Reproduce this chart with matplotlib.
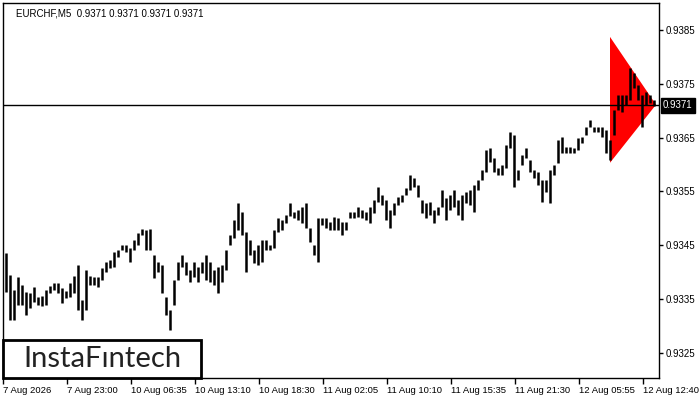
import matplotlib.pyplot as plt
from matplotlib.patches import Polygon, Rectangle

# EURCHF M5 bars (high / low), one entry per plotted bar
highs = [
    0.93435, 0.93394, 0.93366, 0.93391, 0.93376, 0.93363, 0.93361, 0.93372, 0.93354, 0.93356,
    0.93366, 0.93374, 0.93379, 0.93379, 0.93370, 0.93365, 0.93379, 0.93392, 0.93413, 0.93348,
    0.93404, 0.93392, 0.93391, 0.93391, 0.93407, 0.93418, 0.93422, 0.93437, 0.93441, 0.93450,
    0.93450, 0.93444, 0.93459, 0.93472, 0.93480, 0.93478, 0.93480, 0.93431, 0.93418, 0.93413,
    0.93354, 0.93329, 0.93385, 0.93418, 0.93431, 0.93418, 0.93404, 0.93418, 0.93409, 0.93418,
    0.93431, 0.93418, 0.93404, 0.93409, 0.93413, 0.93441, 0.93469, 0.93497, 0.93528, 0.93512,
    0.93474, 0.93459, 0.93441, 0.93450, 0.93459, 0.93459, 0.93450, 0.93478, 0.93500, 0.93497,
    0.93506, 0.93528, 0.93512, 0.93515, 0.93521, 0.93528, 0.93482, 0.93450, 0.93500, 0.93500,
    0.93500, 0.93493, 0.93502, 0.93500, 0.93493, 0.93493, 0.93512, 0.93512, 0.93521, 0.93515,
    0.93512, 0.93521, 0.93534, 0.93558, 0.93543, 0.93534, 0.93515, 0.93528, 0.93539, 0.93543,
    0.93556, 0.93581, 0.93575, 0.93562, 0.93534, 0.93528, 0.93530, 0.93515, 0.93521, 0.93553,
    0.93538, 0.93543, 0.93553, 0.93534, 0.93543, 0.93549, 0.93553, 0.93562, 0.93571, 0.93590,
    0.93627, 0.93631, 0.93612, 0.93594, 0.93599, 0.93636, 0.93660, 0.93655, 0.93590, 0.93618,
    0.93631, 0.93608, 0.93590, 0.93586, 0.93571, 0.93571, 0.93590, 0.93599, 0.93646, 0.93651,
    0.93633, 0.93633, 0.93631, 0.93649, 0.93651, 0.93670, 0.93683, 0.93670, 0.93670, 0.93670,
    0.93664, 0.93646, 0.93701, 0.93729, 0.93729, 0.93729, 0.93780, 0.93770, 0.93748, 0.93729,
    0.93735, 0.93729, 0.93720,
]
lows = [
    0.93363, 0.93311, 0.93311, 0.93339, 0.93339, 0.93320, 0.93333, 0.93344, 0.93339, 0.93337,
    0.93339, 0.93361, 0.93366, 0.93361, 0.93342, 0.93352, 0.93354, 0.93361, 0.93329, 0.93311,
    0.93329, 0.93376, 0.93376, 0.93372, 0.93385, 0.93400, 0.93407, 0.93409, 0.93428, 0.93441,
    0.93437, 0.93418, 0.93441, 0.93450, 0.93469, 0.93441, 0.93441, 0.93389, 0.93400, 0.93361,
    0.93320, 0.93292, 0.93339, 0.93385, 0.93409, 0.93394, 0.93381, 0.93391, 0.93381, 0.93398,
    0.93385, 0.93381, 0.93376, 0.93361, 0.93381, 0.93404, 0.93450, 0.93463, 0.93478, 0.93469,
    0.93400, 0.93431, 0.93416, 0.93413, 0.93418, 0.93441, 0.93441, 0.93444, 0.93474, 0.93478,
    0.93491, 0.93504, 0.93500, 0.93497, 0.93491, 0.93482, 0.93456, 0.93431, 0.93418, 0.93487,
    0.93482, 0.93478, 0.93478, 0.93478, 0.93469, 0.93478, 0.93500, 0.93500, 0.93502, 0.93500,
    0.93497, 0.93491, 0.93510, 0.93530, 0.93525, 0.93497, 0.93482, 0.93506, 0.93525, 0.93530,
    0.93543, 0.93553, 0.93558, 0.93539, 0.93510, 0.93500, 0.93506, 0.93491, 0.93506, 0.93521,
    0.93497, 0.93515, 0.93521, 0.93506, 0.93497, 0.93528, 0.93525, 0.93512, 0.93553, 0.93571,
    0.93586, 0.93605, 0.93586, 0.93581, 0.93581, 0.93594, 0.93631, 0.93558, 0.93571, 0.93599,
    0.93612, 0.93586, 0.93575, 0.93562, 0.93530, 0.93549, 0.93528, 0.93581, 0.93603, 0.93621,
    0.93621, 0.93621, 0.93621, 0.93627, 0.93640, 0.93655, 0.93670, 0.93660, 0.93660, 0.93651,
    0.93621, 0.93608, 0.93655, 0.93701, 0.93698, 0.93711, 0.93720, 0.93742, 0.93720, 0.93670,
    0.93711, 0.93714, 0.93709,
]

last_price = 0.9371
price_ticks = [0.9325, 0.9335, 0.9345, 0.9355, 0.9365, 0.9375, 0.9385]
time_labels = ["7 Aug 2026", "7 Aug 23:00", "10 Aug 06:35", "10 Aug 13:10", "10 Aug 18:30",
               "11 Aug 02:05", "11 Aug 10:10", "11 Aug 15:35", "11 Aug 21:30",
               "12 Aug 05:55", "12 Aug 12:40"]
bars_per_label = 16

# bearish pennant (bar index, price)
pennant = [(151, 0.93837), (151, 0.93603), (162.5, 0.93711)]

fig = plt.figure(figsize=(7, 4), dpi=100)
ax = fig.add_axes([3 / 700, 22 / 400, 656 / 700, 375 / 400])

ax.add_patch(Polygon(pennant, closed=True, facecolor='#ff0000', edgecolor='none', zorder=1))

xs = list(range(len(highs)))
ax.vlines(xs, lows, highs, colors='black', linewidth=1.8, zorder=3)

ax.axhline(last_price, color='black', linewidth=1.0, zorder=2)

ax.set_xlim(-0.75, 163.25)
ax.set_ylim(0.93203, 0.93900)

ax.yaxis.tick_right()
ax.set_yticks(price_ticks)
ax.set_yticklabels(['%.4f' % p for p in price_ticks])
ax.tick_params(axis='y', direction='out', length=3, width=1, pad=1.5,
               labelsize=7, labelfontfamily='Liberation Sans')

xt = [-0.75 + bars_per_label * k for k in range(len(time_labels))]
ax.set_xticks(xt)
ax.set_xticklabels(time_labels)
ax.tick_params(axis='x', direction='out', length=4, width=1, pad=2,
               labelsize=6.8, labelfontfamily='Liberation Sans')
for lab in ax.get_xticklabels():
    lab.set_horizontalalignment('left')

for s in ax.spines.values():
    s.set_linewidth(1.0)

# current price tag
ax.text(1.006, last_price, '%.4f' % last_price, transform=ax.get_yaxis_transform(),
        ha='left', va='center', color='white', fontsize=7, family='Liberation Sans',
        bbox=dict(boxstyle='square,pad=0.25', facecolor='black', edgecolor='black'),
        clip_on=False, zorder=5)

ax.text(0.02, 0.985, 'EURCHF,M5  0.9371 0.9371 0.9371 0.9371', transform=ax.transAxes,
        ha='left', va='top', fontsize=7, family='Liberation Sans', color='black')

# logo box
ax.add_patch(Rectangle((0, 0), 198 / 656, 38 / 375, transform=ax.transAxes,
                       facecolor='white', edgecolor='black', linewidth=2, zorder=6,
                       clip_on=False))
ax.text(99 / 656, 19 / 375, 'InstaF\u0131ntech', transform=ax.transAxes,
        ha='center', va='center', fontsize=21, family='Lato', color='#222222', zorder=7)

fig.savefig('out.png', dpi=100)
